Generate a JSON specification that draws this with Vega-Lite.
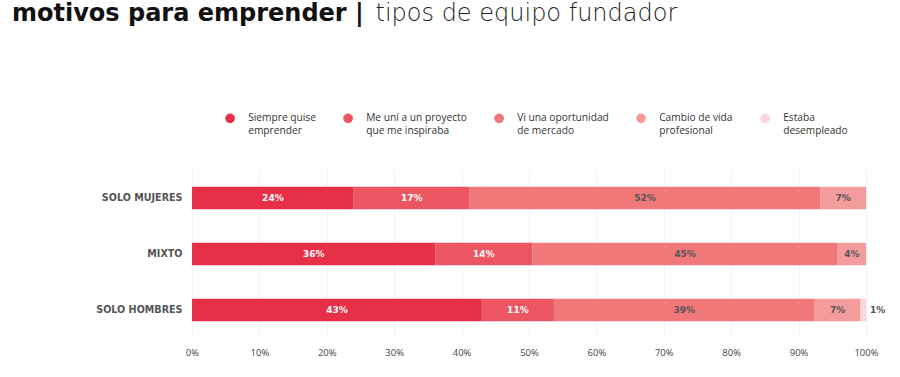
{
  "$schema": "https://vega.github.io/schema/vega-lite/v6.json",
  "width": 674,
  "height": 168,
  "autosize": {"type": "none"},
  "padding": {"left": 192, "top": 170, "right": 34, "bottom": 39},
  "background": "white",
  "title": {
    "text": "motivos para emprender |",
    "anchor": "start",
    "frame": "group",
    "dx": -180,
    "offset": -25,
    "font": "DejaVu Sans",
    "fontSize": 24,
    "fontWeight": "bold",
    "color": "#111111"
  },
  "data": {
    "values": [
      {"equipo": "SOLO MUJERES", "motivo": "Siempre quise emprender", "valor": 0.24},
      {"equipo": "SOLO MUJERES", "motivo": "Me uní a un proyecto que me inspiraba", "valor": 0.172},
      {"equipo": "SOLO MUJERES", "motivo": "Vi una oportunidad de mercado", "valor": 0.52},
      {"equipo": "SOLO MUJERES", "motivo": "Cambio de vida profesional", "valor": 0.068},
      {"equipo": "MIXTO", "motivo": "Siempre quise emprender", "valor": 0.361},
      {"equipo": "MIXTO", "motivo": "Me uní a un proyecto que me inspiraba", "valor": 0.144},
      {"equipo": "MIXTO", "motivo": "Vi una oportunidad de mercado", "valor": 0.453},
      {"equipo": "MIXTO", "motivo": "Cambio de vida profesional", "valor": 0.042},
      {"equipo": "SOLO HOMBRES", "motivo": "Siempre quise emprender", "valor": 0.43},
      {"equipo": "SOLO HOMBRES", "motivo": "Me uní a un proyecto que me inspiraba", "valor": 0.107},
      {"equipo": "SOLO HOMBRES", "motivo": "Vi una oportunidad de mercado", "valor": 0.387},
      {"equipo": "SOLO HOMBRES", "motivo": "Cambio de vida profesional", "valor": 0.068},
      {"equipo": "SOLO HOMBRES", "motivo": "Estaba desempleado", "valor": 0.008}
    ]
  },
  "transform": [
    {"calculate": "indexof(['Siempre quise emprender','Me uní a un proyecto que me inspiraba','Vi una oportunidad de mercado','Cambio de vida profesional','Estaba desempleado'], datum.motivo)", "as": "orden"},
    {"stack": "valor", "groupby": ["equipo"], "sort": [{"field": "orden", "order": "ascending"}], "as": ["inicio", "fin"]},
    {"calculate": "(datum.inicio + datum.fin) / 2", "as": "medio"}
  ],
  "encoding": {
    "y": {
      "field": "equipo",
      "type": "nominal",
      "sort": ["SOLO MUJERES", "MIXTO", "SOLO HOMBRES"],
      "scale": {"paddingInner": 0.6, "paddingOuter": 0.3},
      "axis": {
        "title": "tipos de equipo fundador",
        "titleX": 183,
        "titleY": -150,
        "titleAngle": 0,
        "titleAlign": "left",
        "titleBaseline": "alphabetic",
        "titleFont": "DejaVu Sans",
        "titleFontSize": 24,
        "titleFontWeight": 200,
        "titleColor": "#222222",
        "ticks": false,
        "domain": false,
        "labelPadding": 10,
        "labelFont": "DejaVu Sans",
        "labelFontSize": 9.6,
        "labelFontWeight": "bold",
        "labelColor": "#555555"
      }
    }
  },
  "layer": [
    {
      "mark": {"type": "bar"},
      "encoding": {
        "x": {
          "field": "inicio",
          "type": "quantitative",
          "scale": {"domain": [0, 1], "nice": false},
          "axis": {
            "title": null,
            "format": ".0%",
            "values": [0, 0.1, 0.2, 0.3, 0.4, 0.5, 0.6, 0.7, 0.8, 0.9, 1],
            "ticks": false,
            "domain": false,
            "labelFlush": false,
            "labelPadding": 9,
            "labelFont": "Open Sans",
            "labelFontSize": 9.5,
            "labelColor": "#444444",
            "gridColor": "#eef2f6",
            "gridWidth": 1
          }
        },
        "x2": {"field": "fin"},
        "color": {
          "field": "motivo",
          "type": "nominal",
          "scale": {
            "domain": ["Siempre quise emprender", "Me uní a un proyecto que me inspiraba", "Vi una oportunidad de mercado", "Cambio de vida profesional", "Estaba desempleado"],
            "range": ["#e72f48", "#eb5662", "#f07878", "#f49c9c", "#fbd4dc"]
          },
          "legend": {
            "title": null,
            "orient": "none",
            "direction": "horizontal",
            "legendX": 33,
            "legendY": -57,
            "padding": 0,
            "symbolType": "circle",
            "symbolSize": 95,
            "symbolStrokeWidth": 0,
            "symbolOpacity": 1,
            "labelOffset": 13,
            "columnPadding": 27,
            "labelFont": "Open Sans",
            "labelFontSize": 10.2,
            "labelColor": "#333333",
            "labelLineHeight": 11.5,
            "labelBaseline": "middle",
            "labelLimit": 200,
            "labelExpr": "datum.label == 'Siempre quise emprender' ? ['Siempre quise', 'emprender'] : datum.label == 'Me uní a un proyecto que me inspiraba' ? ['Me uní a un proyecto', 'que me inspiraba'] : datum.label == 'Vi una oportunidad de mercado' ? ['Vi una oportunidad', 'de mercado'] : datum.label == 'Cambio de vida profesional' ? ['Cambio de vida', 'profesional'] : ['Estaba', 'desempleado']"
          }
        }
      }
    },
    {
      "transform": [{"filter": "datum.valor >= 0.02"}],
      "mark": {"type": "text", "font": "DejaVu Sans", "fontSize": 9, "fontWeight": "bold", "baseline": "middle"},
      "encoding": {
        "x": {"field": "medio", "type": "quantitative"},
        "text": {"field": "valor", "type": "quantitative", "format": ".0%"},
        "color": {
          "condition": {"test": "datum.orden < 2", "value": "#ffffff"},
          "value": "#555555"
        }
      }
    },
    {
      "transform": [{"filter": "datum.valor < 0.02"}],
      "mark": {"type": "text", "font": "DejaVu Sans", "fontSize": 9, "fontWeight": "bold", "baseline": "middle", "align": "left", "dx": 4, "color": "#555555"},
      "encoding": {
        "x": {"field": "fin", "type": "quantitative"},
        "text": {"field": "valor", "type": "quantitative", "format": ".0%"}
      }
    }
  ],
  "config": {
    "view": {"stroke": null},
    "axisY": {"grid": false}
  }
}
